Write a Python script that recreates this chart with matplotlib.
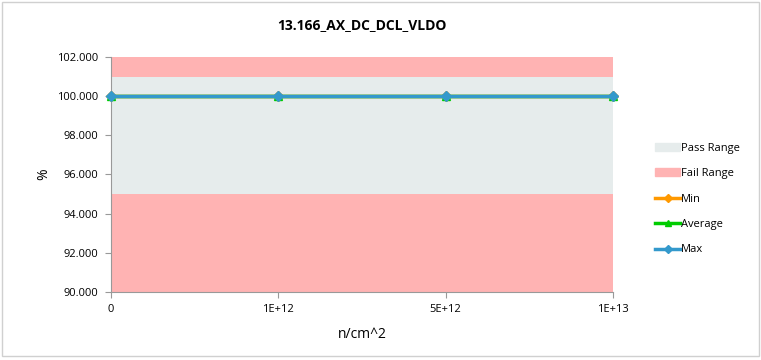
import matplotlib.pyplot as plt
import numpy as np
from matplotlib.patches import Patch
from matplotlib.lines import Line2D

# chart data
categories = ['0', '1E+12', '5E+12', '1E+13']
fail_low = [95.0, 95.0, 95.0, 95.0]
pass_high = [101.0, 101.0, 101.0, 101.0]
fail_high = [102.0, 102.0, 102.0, 102.0]
min_vals = [100.0, 100.0, 100.0, 100.0]
avg_vals = [100.0, 100.0, 100.0, 100.0]
max_vals = [100.0, 100.0, 100.0, 100.0]

plt.rcParams['font.family'] = ['Open Sans', 'DejaVu Sans']

fig = plt.figure(figsize=(7.61, 3.6), dpi=100)
ax = fig.add_axes([0.1459, 0.1889, 0.6596, 0.6528])

x = np.arange(len(categories))
pink = '#ffb3b3'
grey = '#e6ecec'
ax.fill_between(x, 90, fail_low, color=pink, lw=0)
ax.fill_between(x, fail_low, pass_high, color=grey, lw=0)
ax.fill_between(x, pass_high, fail_high, color=pink, lw=0)

ax.plot(x, min_vals, color='#ff9900', lw=2.5, marker='D', ms=5, clip_on=False, zorder=3)
ax.plot(x, avg_vals, color='#00cc00', lw=2.5, marker='^', ms=6, clip_on=False, zorder=4)
ax.plot(x, max_vals, color='#3399cc', lw=2.5, marker='D', ms=5, clip_on=False, zorder=5)

ax.set_xlim(0, 3)
ax.set_ylim(90, 102)
ax.set_yticks(np.arange(90, 102.1, 2))
ax.set_yticklabels([f'{v:.3f}' for v in np.arange(90, 102.1, 2)], fontsize=8)
ax.set_xticks(x)
ax.set_xticklabels(categories, fontsize=8)
ax.tick_params(axis='both', color='#999999', length=4, pad=5)

for side in ['top', 'right']:
    ax.spines[side].set_visible(False)
ax.spines['left'].set_color('#999999')
ax.spines['bottom'].set_color('#999999')

ax.set_title('13.166_AX_DC_DCL_VLDO', fontsize=10, fontweight='bold', pad=20)
ax.set_xlabel('n/cm^2', fontsize=10, labelpad=8)
ax.set_ylabel('%', fontsize=10)
ax.yaxis.set_label_coords(-0.12, 0.5)

handles = [
    Patch(color=grey, label='Pass Range'),
    Patch(color=pink, label='Fail Range'),
    Line2D([], [], color='#ff9900', lw=2.5, marker='D', ms=4, label='Min'),
    Line2D([], [], color='#00cc00', lw=2.5, marker='^', ms=5, label='Average'),
    Line2D([], [], color='#3399cc', lw=2.5, marker='D', ms=4, label='Max'),
]
fig.legend(handles=handles, loc='center left', bbox_to_anchor=(0.848, 0.447),
           frameon=False, fontsize=8, handlelength=2.2, handletextpad=0.1,
           labelspacing=1.3)

border = plt.Rectangle((0.003, 0.01), 0.994, 0.985, transform=fig.transFigure,
                       fill=False, ec='#d0d0d0', lw=1)
fig.patches.append(border)

fig.savefig('out.png', dpi=100)
